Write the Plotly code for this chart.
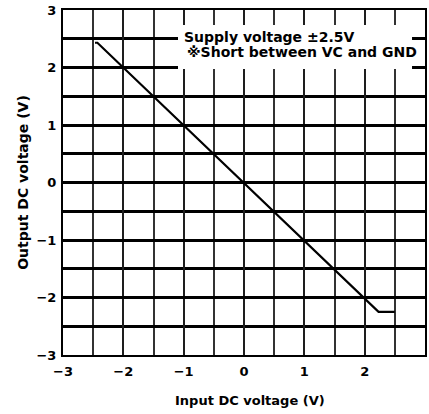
import plotly.graph_objects as go

# Data
input_v = [-2.47, -2.43, 2.23, 2.5]
output_v = [2.43, 2.43, -2.25, -2.25]
axis_range = [-3, 3]
note_lines = ["Supply voltage \u00b12.5V", "\u203bShort between VC and GND"]
x_title = "Input DC voltage (V)"
y_title = "Output DC voltage (V)"

fig = go.Figure()
fig.add_trace(go.Scatter(x=input_v, y=output_v, mode="lines",
                         line=dict(color="black", width=2.2), showlegend=False,
                         hoverinfo="skip"))

tickfont = dict(family="DejaVu Sans", size=13, color="black", weight="bold")
axis_common = dict(range=axis_range, tickmode="linear", tick0=0, dtick=1,
                   showline=True, mirror=True, linecolor="black", linewidth=2,
                   zeroline=False, ticks="", tickfont=tickfont, fixedrange=True,
                   automargin=False)

fig.update_xaxes(**axis_common)
fig.update_xaxes(showgrid=True, gridcolor="rgb(30,30,30)", gridwidth=2,
                 minor=dict(dtick=0.5, tick0=0, showgrid=True, gridcolor="rgb(50,50,50)", gridwidth=2),
                 ticklabelstandoff=3)
fig.update_yaxes(**axis_common)
fig.update_yaxes(showgrid=True, gridcolor="black", gridwidth=2.5,
                 minor=dict(dtick=0.5, tick0=0, showgrid=True, gridcolor="black", gridwidth=2.5),
                 ticklabelstandoff=2,
                 title=dict(text=y_title, standoff=5,
                            font=dict(family="DejaVu Sans", size=14, color="black", weight="bold")))

fig.add_annotation(x=0.517, y=-0.133, xref="paper", yref="paper", text=x_title,
                   showarrow=False, xanchor="center", yanchor="middle",
                   font=dict(family="DejaVu Sans", size=13, color="black", weight="bold"))

fig.add_shape(type="rect", xref="x", yref="y", x0=-1.094, x1=2.785, y0=1.974, y1=2.739,
              fillcolor="white", line=dict(width=0), layer="above")

fig.add_annotation(x=-1.028, y=2.53, xref="x", yref="y", text=note_lines[0],
                   showarrow=False, xanchor="left", yanchor="middle",
                   font=dict(family="DejaVu Sans", size=14, color="black", weight="bold"))
fig.add_annotation(x=-0.978, y=2.27, xref="x", yref="y", text=note_lines[1],
                   showarrow=False, xanchor="left", yanchor="middle",
                   font=dict(family="DejaVu Sans", size=14, color="black", weight="bold"))

fig.update_layout(width=429, height=414, margin=dict(l=63, r=4, t=10, b=59),
                  plot_bgcolor="white", paper_bgcolor="white")

fig.write_html("out.html", config={"displayModeBar": False},
               post_script="document.body.style.margin='0';")
